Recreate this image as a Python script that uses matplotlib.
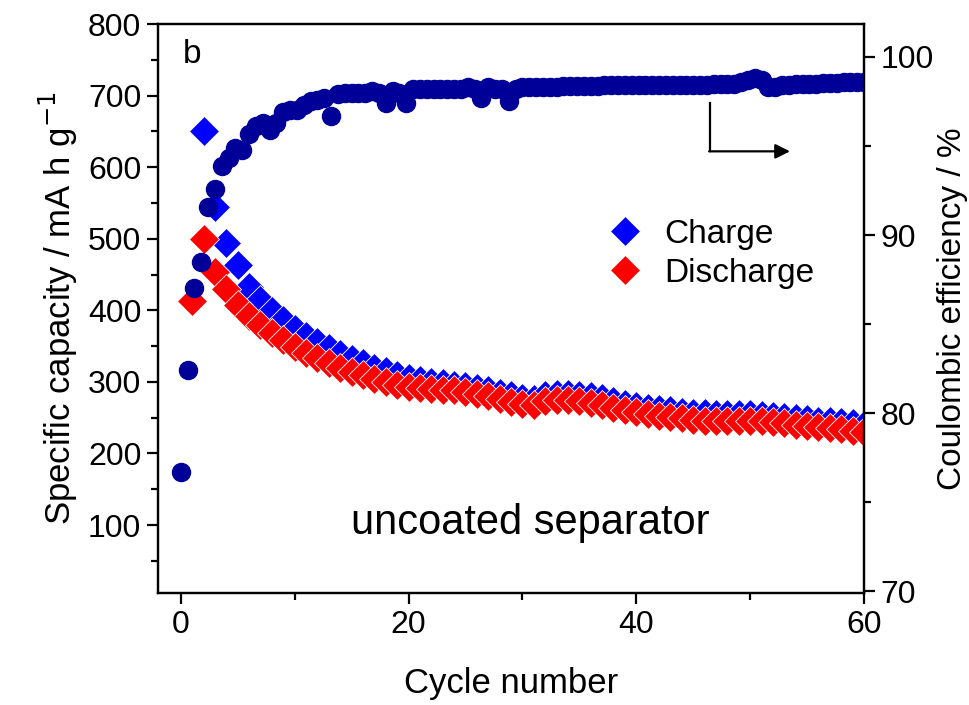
import numpy as np
import matplotlib
matplotlib.use("Agg")
import matplotlib.pyplot as plt
from matplotlib.ticker import MultipleLocator

# ── Data ─────────────────────────────────────────────────────────────
charge_cycles = list(range(2, 61))
charge = [650, 545, 494, 463, 433, 414, 399, 386, 374, 364,
          355, 347, 339, 332, 326, 320, 315, 310, 306, 303,
          300, 298, 296, 294, 291, 288, 285, 281, 278, 276,
          281, 283, 283, 282, 280, 277, 273, 269, 266, 264,
          262, 260, 258, 257, 256, 255, 255, 255, 255, 254,
          253, 251, 249, 248, 246, 245, 244, 242, 240]

discharge_cycles = list(range(1, 61))
discharge = [413, 500, 453, 430, 407, 392, 379, 368, 358, 349,
             341, 334, 327, 320, 314, 309, 304, 300, 296, 293,
             291, 290, 289, 288, 286, 283, 280, 276, 272, 269,
             267, 273, 275, 275, 273, 270, 267, 263, 260, 258,
             255, 253, 251, 249, 247, 246, 245, 245, 245, 245,
             245, 244, 242, 240, 238, 237, 235, 234, 232, 230]

ce_step = 0.6
ce = [76.7, 82.4, 87.0, 88.5, 91.6, 92.6, 93.9, 94.3, 94.9, 94.8,
      95.7, 96.1, 96.3, 95.9, 96.3, 96.9, 97.0, 97.0, 97.3, 97.5,
      97.6, 97.7, 96.7, 97.9, 98.0, 98.0, 98.0, 98.0, 98.1, 98.0,
      97.4, 98.1, 98.0, 97.4, 98.2, 98.2, 98.2, 98.2, 98.2, 98.2,
      98.2, 98.2, 98.3, 98.2, 97.7, 98.3, 98.2, 98.2, 97.5, 98.2,
      98.3, 98.3, 98.3, 98.3, 98.3, 98.3, 98.35, 98.35, 98.35, 98.35,
      98.35, 98.35, 98.4, 98.4, 98.4, 98.4, 98.4, 98.4, 98.4, 98.4,
      98.4, 98.45, 98.45, 98.45, 98.45, 98.45, 98.45, 98.45, 98.5, 98.5,
      98.5, 98.5, 98.6, 98.7, 98.8, 98.7, 98.3, 98.3, 98.4, 98.45,
      98.5, 98.5, 98.5, 98.5, 98.55, 98.55, 98.55, 98.6, 98.6, 98.6,
      98.6]
ce_cycles = np.arange(len(ce)) * ce_step

# ── Style ────────────────────────────────────────────────────────────
plt.rcParams.update({
    "font.family": ["Liberation Sans", "DejaVu Sans"],
    "axes.linewidth": 1.6,
    "xtick.direction": "out",
    "ytick.direction": "out",
    "xtick.major.size": 8, "ytick.major.size": 8,
    "xtick.minor.size": 5, "ytick.minor.size": 5,
    "xtick.major.width": 1.6, "ytick.major.width": 1.6,
    "xtick.minor.width": 1.6, "ytick.minor.width": 1.6,
})

C_CHARGE = "#0000ff"
C_DISCHARGE = "#ff0000"
C_CE = "#000099"

fig = plt.figure(figsize=(9.69, 7.05), dpi=100)
ax = fig.add_axes([158 / 969, 1 - 593 / 705, 706 / 969, 569 / 705])
ax2 = ax.twinx()

ax.plot(charge_cycles, charge, ls="none", marker="D", ms=15.5,
        color=C_CHARGE, mec="white", mew=0.6, label="Charge")
ax.plot(discharge_cycles, discharge, ls="none", marker="D", ms=15.5,
        color=C_DISCHARGE, mec="white", mew=0.6, label="Discharge")
ax2.plot(ce_cycles, ce, ls="none", marker="o", ms=13, color=C_CE, mec=C_CE)

ax.set_xlim(-2, 60)
ax.set_ylim(5, 800)
ax2.set_ylim(69.9, 101.85)

ax.xaxis.set_major_locator(MultipleLocator(20))
ax.xaxis.set_minor_locator(MultipleLocator(10))
ax.yaxis.set_major_locator(MultipleLocator(100))
ax.yaxis.set_minor_locator(MultipleLocator(50))
ax2.yaxis.set_major_locator(MultipleLocator(10))
ax2.yaxis.set_minor_locator(MultipleLocator(5))

ax.tick_params(labelsize=23, pad=4)
ax2.tick_params(labelsize=23, pad=4)

ax.set_xlabel("Cycle number", fontsize=25, labelpad=20)
ax.set_ylabel("Specific capacity / mA h g$^{-1}$", fontsize=25, labelpad=6)
ax2.set_ylabel("Coulombic efficiency / %", fontsize=24, labelpad=2)

ax.text(0.048, 0.946, "b", transform=ax.transAxes, fontsize=24,
        ha="center", va="center")
ax.text(0.527, 0.123, "uncoated separator", transform=ax.transAxes,
        fontsize=30, ha="center", va="center")

# arrow pointing to the right axis
ax2.plot([46.5, 46.5], [97.4, 94.7], color="black", lw=1.6)
ax2.annotate("", xy=(53.5, 94.7), xytext=(46.4, 94.7),
             arrowprops=dict(arrowstyle="-|>", color="black", lw=1.6,
                             mutation_scale=22, shrinkA=0, shrinkB=0))

handles, labels = ax.get_legend_handles_labels()
ax2.legend(handles, labels, loc="upper left", frameon=False, fontsize=24,
           bbox_to_anchor=(588 / 969, 1 - 202 / 705),
           bbox_transform=fig.transFigure, handletextpad=0.6,
           labelspacing=0.25, handlelength=1.2, borderpad=0)

fig.savefig("out.png", dpi=100)
